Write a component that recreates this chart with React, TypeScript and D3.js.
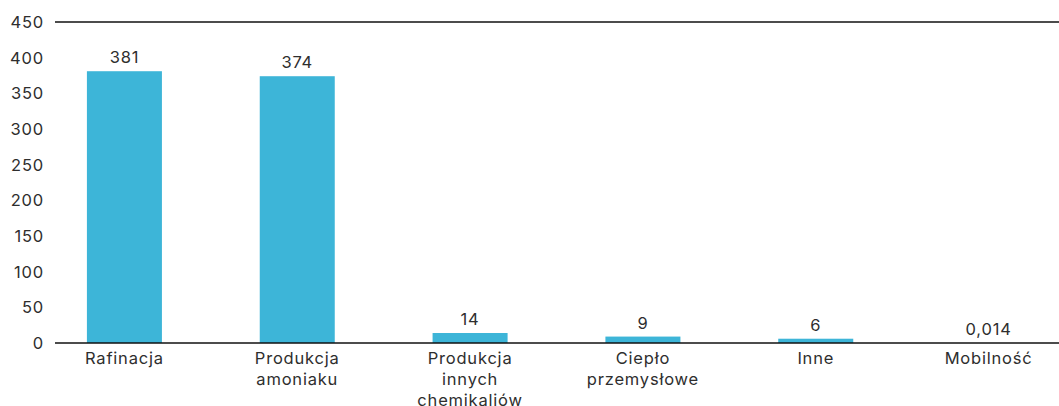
import React from "react";
import * as d3 from "d3";

const categories: string[][] = [
  ["Rafinacja"],
  ["Produkcja", "amoniaku"],
  ["Produkcja", "innych", "chemikaliów"],
  ["Ciepło", "przemysłowe"],
  ["Inne"],
  ["Mobilność"],
];
const values: number[] = [381, 374, 14, 9, 6, 0.014];
const valueLabels: string[] = ["381", "374", "14", "9", "6", "0,014"];
const yTicks: number[] = [0, 50, 100, 150, 200, 250, 300, 350, 400, 450];

const W = 1059;
const H = 406;
const FONT = "Inter, 'Open Sans', sans-serif";
const TEXT = "#2e2e2e";
const BAR = "#3db5d8";
const FS = 16.5;
const LS = 0.8;

export default function App() {
  const keys = categories.map((c) => c.join(" "));
  const x = d3.scaleBand<string>().domain(keys).range([38, 1075]).padding(0);
  const y = d3.scaleLinear().domain([0, 450]).range([343, 22]);
  const bw = x.bandwidth() * 0.434;
  const lineX1 = 55;
  const lineX2 = 1059;

  return (
    <svg
      width={W}
      height={H}
      style={{ position: "absolute", left: 0, top: 0, display: "block", background: "#fff" }}
      fontFamily={FONT}
      fontSize={FS}
      letterSpacing={LS}
    >
      {yTicks.map((t) => (
        <text
          key={t}
          x={44}
          y={y(t)}
          textAnchor="end"
          dominantBaseline="central"
          fill={TEXT}
        >
          {t}
        </text>
      ))}
      {values.map((v, i) => {
        const cx = (x(keys[i]) as number) + x.bandwidth() / 2;
        return (
          <g key={keys[i]}>
            <rect x={cx - bw / 2} y={y(v)} width={bw} height={y(0) - y(v)} fill={BAR} />
            <text x={cx} y={y(v) - 8} textAnchor="middle" fill={TEXT}>
              {valueLabels[i]}
            </text>
            {categories[i].map((line, j) => (
              <text key={j} x={cx} y={364 + j * 21} textAnchor="middle" fill={TEXT}>
                {line}
              </text>
            ))}
          </g>
        );
      })}
      <line x1={lineX1} x2={lineX2} y1={y(450)} y2={y(450)} stroke="#111" strokeWidth={1.3} />
      <line x1={lineX1} x2={lineX2} y1={y(0)} y2={y(0)} stroke="#111" strokeWidth={1.3} />
    </svg>
  );
}
